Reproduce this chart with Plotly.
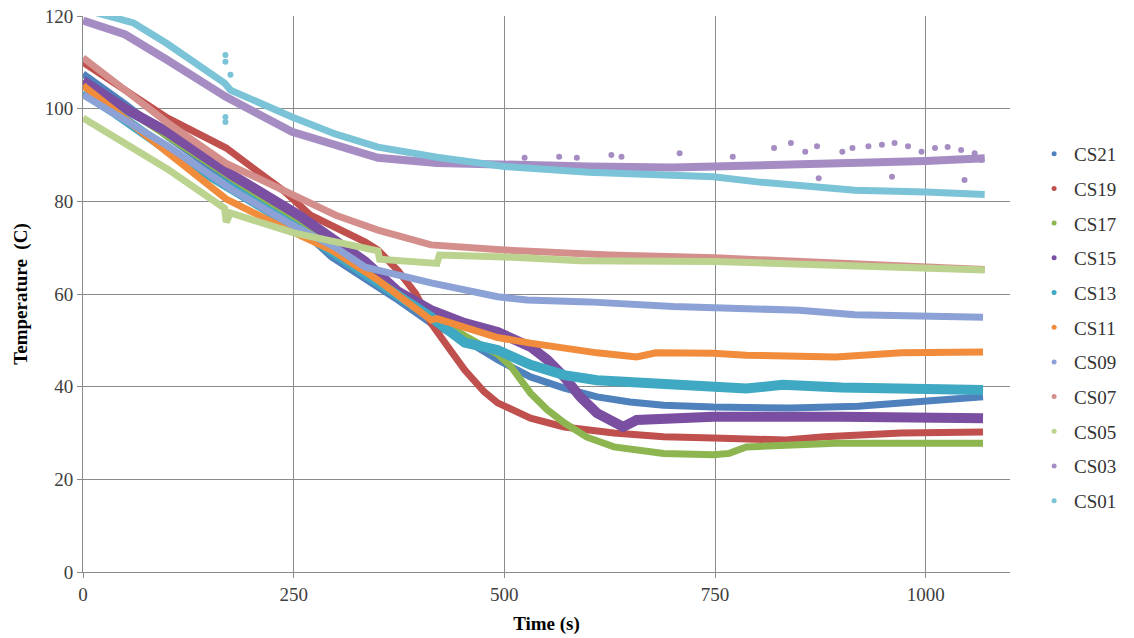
import plotly.graph_objects as go

FONT = "Liberation Serif"

# ---- data (time in s, temperature in C) ----
t_cs21 = [0, 50, 100, 170, 256, 295, 350, 374, 413, 453, 492, 531, 571, 610, 649, 689, 748, 840, 920, 971, 1020, 1068]
T_cs21 = [107.5, 101, 94, 85, 74.5, 68, 61.5, 58.7, 53.7, 50.1, 45.8, 42.1, 39.7, 37.8, 36.7, 36, 35.6, 35.4, 35.8, 36.5, 37, 37.8]

t_cs19 = [0, 50, 100, 170, 240, 270, 295, 335, 350, 374, 395, 413, 433, 453, 476, 492, 531, 571, 630, 689, 748, 834, 880, 924, 971, 1068]
T_cs19 = [110, 104, 98, 91.5, 82, 77, 74.9, 71.2, 69.5, 65, 60, 53.7, 48.6, 43.6, 38.9, 36.5, 33.2, 31.3, 30, 29.2, 28.9, 28.5, 29.2, 29.6, 30, 30.2]

t_cs17 = [0, 50, 100, 170, 256, 350, 413, 453, 492, 508, 531, 551, 571, 598, 630, 689, 748, 767, 787, 893, 1068]
T_cs17 = [106, 100, 94, 86, 75.5, 63.5, 55.5, 51, 47, 44.3, 38.6, 35, 32.2, 29.1, 27, 25.6, 25.3, 25.6, 27, 27.8, 27.8]

t_cs15 = [0, 50, 100, 177, 256, 335, 374, 413, 453, 492, 531, 551, 571, 590, 610, 630, 641, 657, 689, 748, 900, 1068]
T_cs15 = [106, 100, 95, 85.7, 77, 67, 60.5, 56.5, 53.7, 51.8, 48.6, 45.8, 42.1, 37.8, 34.3, 32.2, 31.3, 32.8, 33.2, 33.5, 33.5, 33.2]

t_cs13 = [0, 39, 106, 165, 256, 350, 413, 453, 492, 531, 571, 610, 667, 748, 787, 830, 900, 1068]
T_cs13 = [103.5, 99, 90.4, 84, 74, 62.5, 55, 49.5, 47.9, 44.7, 42.5, 41.4, 40.8, 40.4, 39.6, 40.4, 39.8, 39.3]

t_cs11 = [0, 47, 165, 170, 236, 295, 350, 374, 413, 420, 453, 492, 531, 571, 610, 657, 680, 748, 787, 893, 971, 1068]
T_cs11 = [105, 98.2, 81.4, 80.5, 74.5, 69.5, 63, 59.8, 54.4, 54.7, 52.7, 50.6, 49.4, 48.3, 47.3, 46.4, 47.3, 47.2, 46.8, 46.4, 47.3, 47.5]

t_cs09 = [0, 100, 177, 244, 300, 335, 413, 492, 527, 600, 700, 748, 800, 850, 916, 1068]
T_cs09 = [103, 92, 82.5, 75.3, 70, 65.8, 62.4, 59.4, 58.7, 58.3, 57.3, 57, 57, 56.5, 55.5, 55]

t_cs07 = [0, 100, 170, 250, 300, 350, 413, 500, 625, 750, 860, 1000, 1070]
T_cs07 = [111, 97, 88.2, 81.5, 77, 73.8, 70.6, 69.5, 68.4, 67.8, 67, 65.8, 65.3]

t_cs05 = [0, 100, 168, 170, 175, 250, 350, 352, 420, 423, 500, 590, 750, 900, 1070]
T_cs05 = [98, 87, 78.5, 75.5, 77.5, 73.2, 69.3, 67.5, 66.6, 68.4, 68, 67.2, 67, 66.2, 65.2]

t_cs03 = [0, 50, 100, 170, 248, 300, 350, 420, 500, 600, 700, 800, 900, 1000, 1070]
T_cs03 = [119, 116, 110.5, 102.5, 95, 92, 89.4, 88.3, 87.8, 87.5, 87.3, 87.8, 88, 88.7, 89.3]
t_cs03_scatter = [524, 565, 586, 627, 639, 708, 771, 820, 840, 857, 871, 873, 901, 913, 932, 948, 960, 963, 979, 995, 1011, 1026, 1042, 1046, 1058, 1066]
T_cs03_scatter = [89.4, 89.6, 89.4, 90, 89.6, 90.4, 89.6, 91.5, 92.6, 90.7, 91.9, 85, 90.7, 91.5, 91.9, 92.2, 85.3, 92.6, 91.9, 90.7, 91.5, 91.7, 91.1, 84.6, 90.4, 88.9]

t_cs01 = [0, 30, 60, 100, 168, 175, 248, 300, 350, 420, 500, 600, 748, 800, 916, 1000, 1070]
T_cs01 = [121.5, 120, 118.5, 114, 105.5, 104, 98.2, 94.5, 91.7, 89.5, 87.5, 86.3, 85.3, 84.2, 82.4, 82, 81.5]
t_cs01_scatter = [169, 169, 175, 169, 169]
T_cs01_scatter = [111.6, 110.1, 107.3, 98.2, 97.1]

names = ["CS21", "CS19", "CS17", "CS15", "CS13", "CS11", "CS09", "CS07", "CS05", "CS03", "CS01"]
times = [t_cs21, t_cs19, t_cs17, t_cs15, t_cs13, t_cs11, t_cs09, t_cs07, t_cs05, t_cs03, t_cs01]
temps = [T_cs21, T_cs19, T_cs17, T_cs15, T_cs13, T_cs11, T_cs09, T_cs07, T_cs05, T_cs03, T_cs01]
colors = ["#4F81BD", "#C0504D", "#8DB651", "#7A4EA0", "#3FA8C2", "#F08C3C",
          "#8CA1D5", "#D48F8C", "#BCD38F", "#A58DC4", "#7BC3D6"]
widths = [7, 7, 7, 10, 10, 7, 7, 7, 7, 8, 7]
scatter_pts = {"CS03": (t_cs03_scatter, T_cs03_scatter), "CS01": (t_cs01_scatter, T_cs01_scatter)}

fig = go.Figure()
for name, t, T, c, w in zip(names, times, temps, colors, widths):
    fig.add_trace(go.Scatter(x=t, y=T, mode="lines", line=dict(color=c, width=w),
                             legendgroup=name, showlegend=False, hoverinfo="skip"))
    if name in scatter_pts:
        st, sT = scatter_pts[name]
        fig.add_trace(go.Scatter(x=st, y=sT, mode="markers", marker=dict(color=c, size=6),
                                 legendgroup=name, showlegend=False, hoverinfo="skip"))
    fig.add_trace(go.Scatter(x=[None], y=[None], mode="markers", name=name,
                             marker=dict(color=c, size=5), legendgroup=name, showlegend=True))

fig.update_layout(
    template="none",
    width=1134, height=638,
    margin=dict(l=83, r=118, t=16, b=66),
    paper_bgcolor="white", plot_bgcolor="white",
    font=dict(family=FONT, size=19, color="#000000"),
    legend=dict(x=1.026, xanchor="left", y=0.44, yanchor="middle",
                traceorder="grouped", tracegroupgap=7,
                font=dict(family=FONT, size=19, color="#333333"),
                bgcolor="rgba(0,0,0,0)", borderwidth=0),
    showlegend=True,
)
fig.update_xaxes(range=[0, 1100], tick0=0, dtick=250, automargin=False,
                 showgrid=True, gridcolor="#8A8A8A", gridwidth=1,
                 showline=True, linecolor="#8A8A8A", linewidth=1,
                 ticks="outside", ticklen=5, tickcolor="#8A8A8A",
                 tickfont=dict(family=FONT, size=19, color="#404040"), zeroline=False,
                 title=dict(text="<b>Time (s)</b>", font=dict(family=FONT, size=19, color="#000000"), standoff=12))
fig.update_yaxes(range=[0, 120], tick0=0, dtick=20, automargin=False,
                 showgrid=True, gridcolor="#8A8A8A", gridwidth=1,
                 showline=True, linecolor="#8A8A8A", linewidth=1,
                 ticks="outside", ticklen=5, tickcolor="#8A8A8A",
                 tickfont=dict(family=FONT, size=19, color="#404040"), zeroline=False,
                 title=dict(text="<b>Temperature  (C)</b>", font=dict(family=FONT, size=19, color="#000000"), standoff=12))

fig.write_html("out.html")
